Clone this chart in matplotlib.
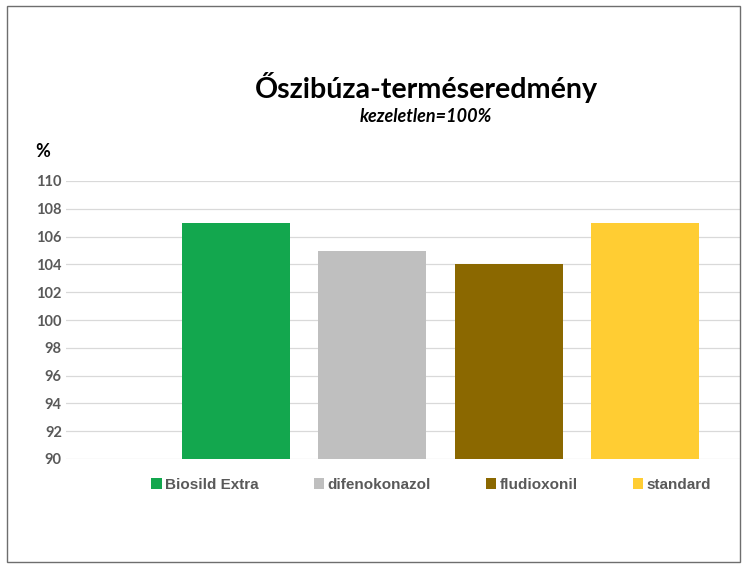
import matplotlib
matplotlib.use("Agg")
import matplotlib.pyplot as plt
from matplotlib.patches import Rectangle

categories = ["Biosild Extra", "difenokonazol", "fludioxonil", "standard"]
values = [107, 105, 104, 107]
colors = ["#13A74E", "#BFBFBF", "#8B6800", "#FFCD33"]
yticks = list(range(90, 111, 2))

title = "Őszibúza-terméseredmény"
subtitle = "kezeletlen=100%"
ylabel = "%"

W, H = 747, 571
fig = plt.figure(figsize=(W / 100, H / 100), dpi=100)
fig.patch.set_facecolor("white")

# outer border
fig.patches.append(Rectangle((7 / W, 1 - 562 / H), (740 - 7) / W, (562 - 6) / H,
                             transform=fig.transFigure, fill=False,
                             edgecolor="#6E6E6E", linewidth=1.0))

ax = fig.add_axes([66 / W, 1 - 459 / H, (740 - 66) / W, (459 - 181) / H])
x = list(range(len(categories)))
bars = ax.bar(x, [v - 90 for v in values], bottom=90, width=0.792,
              color=colors, zorder=3)
for b, c in zip(bars, categories):
    b.set_label(c)

ax.set_ylim(90, 110)
ax.set_xlim(-1.247, 3.698)
ax.set_yticks(yticks)
ax.set_yticklabels([str(t) for t in yticks], fontfamily="Lato",
                   fontweight="bold", fontsize=10.5, color="#595959")
ax.set_xticks([])
ax.tick_params(axis="y", length=0, pad=3)
ax.grid(axis="y", color="#D9D9D9", linewidth=0.9, zorder=0)
for s in ax.spines.values():
    s.set_visible(False)

fig.text(426 / W, 1 - 88 / H, title, ha="center", va="center",
         fontfamily="Lato", fontweight="bold", fontsize=20.6, color="black")
fig.text(426 / W, 1 - 116 / H, subtitle, ha="center", va="center",
         fontfamily="Lato", fontweight="bold", fontstyle="italic",
         fontsize=13, color="black")
fig.text(43 / W, 1 - 151 / H, ylabel, ha="center", va="center",
         fontfamily="Lato", fontweight="bold", fontsize=13, color="black")

leg = fig.legend(handles=list(bars), labels=categories, loc="center",
                 bbox_to_anchor=(431 / W, 1 - 485 / H), ncol=4, frameon=False,
                 handlelength=0.7, handleheight=0.7, handletextpad=0.2,
                 columnspacing=3.6,
                 prop={"family": "Liberation Sans", "weight": "bold", "size": 11})
for t in leg.get_texts():
    t.set_color("#595959")

fig.savefig("out.png", dpi=100, facecolor="white")
